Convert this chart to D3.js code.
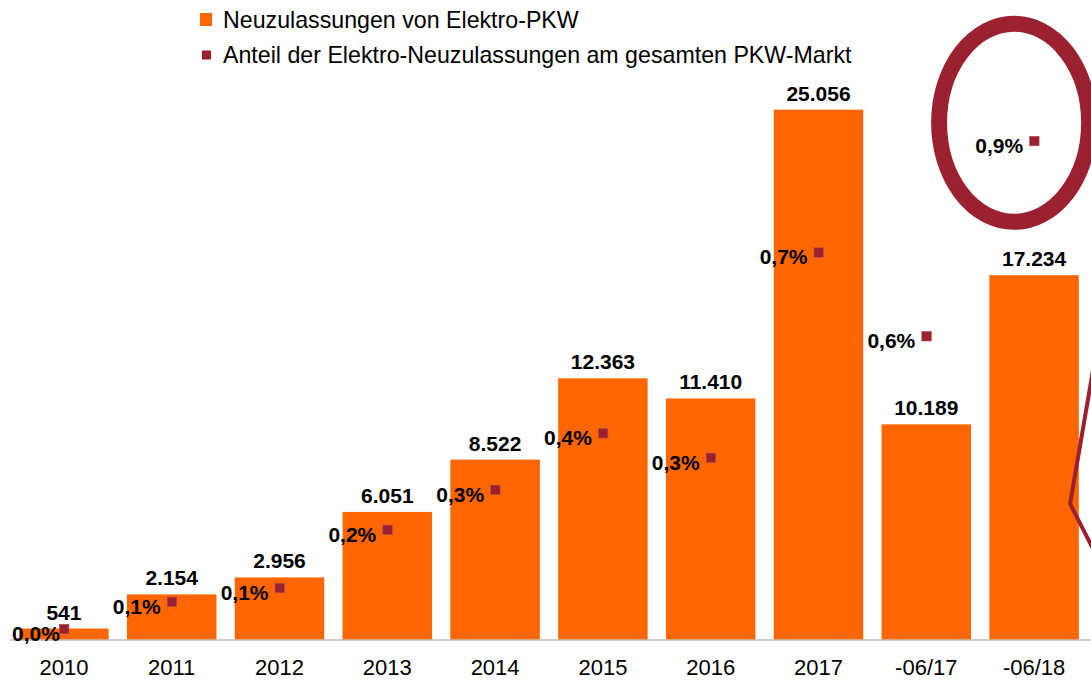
<!DOCTYPE html>
<html>
<head>
<meta charset="utf-8">
<script src="https://cdn.jsdelivr.net/npm/d3@7"></script>
<style>
  body { margin: 0; background: #fff; }
  svg { display: block; font-family: "Liberation Sans", Arial, sans-serif; }
</style>
</head>
<body>
<div id="chart"></div>
<script>
var categories = ["2010", "2011", "2012", "2013", "2014", "2015", "2016", "2017", "-06/17", "-06/18"];
var registrations = [541, 2154, 2956, 6051, 8522, 12363, 11410, 25056, 10189, 17234];
var shares = [0.021, 0.072, 0.098, 0.207, 0.282, 0.388, 0.342, 0.727, 0.570, 0.936];
var legend_array = ["Neuzulassungen von Elektro-PKW", "Anteil der Elektro-Neuzulassungen am gesamten PKW-Markt"];

var W = 1091, H = 680, base = 640;
var orange = "#ff6600", wine = "#9c2130";

var svg = d3.select("#chart").append("svg")
    .attr("width", W)
    .attr("height", H);

var x = d3.scaleBand()
    .domain(categories)
    .range([10, 1088])
    .paddingInner(0.17)
    .paddingOuter(0.085);

var y = d3.scaleLinear().domain([0, 30000]).range([base, 5]);
var yPct = d3.scaleLinear().domain([0, 1.2]).range([base, 0]);

var fmtNum = d3.formatLocale({decimal: ",", thousands: ".", grouping: [3], currency: ["", "€"]});
var fmtInt = fmtNum.format(",d");
var fmtPct = function(v) { return fmtNum.format(".1f")(v) + "%"; };

// bars
svg.append("g").selectAll("rect")
    .data(registrations)
  .enter().append("rect")
    .attr("x", function(d, i) { return x(categories[i]); })
    .attr("y", function(d) { return y(d); })
    .attr("width", x.bandwidth())
    .attr("height", function(d) { return base - y(d); })
    .style("fill", orange);

// axis line + labels
var xAxis = svg.append("g")
    .attr("transform", "translate(0," + base + ")")
    .call(d3.axisBottom(x).tickSize(0).tickPadding(19));
xAxis.select(".domain").attr("d", "M10,0H" + W).style("stroke", "#bfbfbf").style("stroke-width", 1.5);
xAxis.selectAll("text")
    .style("font-size", "22px")
    .style("fill", "#000")
    .style("font-family", "'Liberation Sans', Arial, sans-serif");

// value labels
svg.append("g").selectAll("text")
    .data(registrations)
  .enter().append("text")
    .attr("x", function(d, i) { return x(categories[i]) + x.bandwidth() / 2; })
    .attr("y", function(d) { return y(d) - 9; })
    .style("text-anchor", "middle")
    .style("font-size", "21px")
    .style("font-weight", "bold")
    .text(function(d) { return fmtInt(d); });

// share markers
var cx = function(i) { return x(categories[i]) + x.bandwidth() / 2; };
svg.append("g").selectAll("rect")
    .data(shares)
  .enter().append("rect")
    .attr("x", function(d, i) { return cx(i) - 4.5; })
    .attr("y", function(d) { return yPct(d) - 4.5; })
    .attr("width", 9.5)
    .attr("height", 9.5)
    .style("fill", wine)
    .style("stroke", "#b0505a")
    .style("stroke-width", 0.6);

svg.append("g").selectAll("text")
    .data(shares)
  .enter().append("text")
    .style("text-anchor", "end")
    .style("font-size", "21px")
    .style("font-weight", "bold")
    .attr("y", function(d) { return yPct(d) + 12; })
    .text(function(d) { return fmtPct(d); })
    .attr("x", function(d, i) {
      // keep the label inside the left edge, like the original
      return Math.max(cx(i) - 11, 12 + this.getComputedTextLength());
    });

// highlight ellipse around the last share
var last = shares.length - 1;
var ex = cx(last) - 20, ey = yPct(shares[last]) - 18;
svg.append("ellipse")
    .attr("cx", ex)
    .attr("cy", ey)
    .attr("rx", 75)
    .attr("ry", 99)
    .style("fill", "none")
    .style("stroke", wine)
    .style("stroke-width", 16);

svg.append("polyline")
    .attr("points", [[ex + 80, ey + 241], [ex + 56, ey + 381], [ex + 84, ey + 436]].join(" "))
    .style("fill", "none")
    .style("stroke", wine)
    .style("stroke-width", 4);

// legend
var legend = svg.append("g").selectAll("g")
    .data(legend_array)
  .enter().append("g")
    .attr("transform", function(d, i) { return "translate(0," + (20 + 35 * i) + ")"; });

legend.append("rect")
    .attr("x", function(d, i) { return i ? 202 : 200; })
    .attr("y", function(d, i) { return i ? -4.5 : -7; })
    .attr("width", function(d, i) { return i ? 9 : 12; })
    .attr("height", function(d, i) { return i ? 9 : 13; })
    .style("fill", function(d, i) { return i ? wine : orange; });

legend.append("text")
    .attr("x", 223)
    .attr("y", 8)
    .style("font-size", "23.2px")
    .style("fill", "#000")
    .text(function(d) { return d; });
</script>
</body>
</html>
